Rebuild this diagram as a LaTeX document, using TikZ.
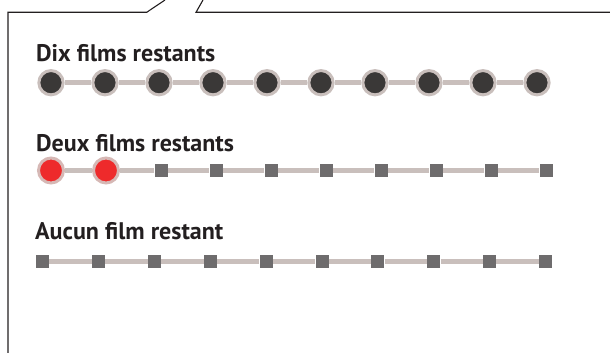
\documentclass[tikz,border=0pt]{standalone}
\usepackage{fontspec}
\setmainfont{PT Sans}
\usepackage{tikz}
\definecolor{ringgray}{HTML}{C9BFBC}
\definecolor{dotdark}{HTML}{3A3837}
\definecolor{dotred}{HTML}{EE2A2B}
\definecolor{ringred}{HTML}{D6B8B5}
\definecolor{sqgray}{HTML}{6E6C6D}
\definecolor{inkdark}{HTML}{231F20}

\begin{document}
\begin{tikzpicture}[
  x=1pt,y=-1pt,
  lbl/.style ={anchor=base west,inner sep=0pt,text=inkdark,
               font=\fontsize{24}{27}\selectfont\bfseries},
  full/.style={circle,draw=ringgray,fill=dotdark,line width=3pt,
               minimum size=24.3pt,inner sep=0pt},
  seen/.style={circle,draw=ringred,fill=dotred,line width=3pt,
               minimum size=25pt,inner sep=0pt},
  gone/.style={rectangle,fill=sqgray,minimum size=13pt,inner sep=0pt},
  bar/.style ={line width=4.5pt,color=ringgray},
  frm/.style ={line width=1.1pt,color=inkdark}
]
\useasboundingbox (0,0) rectangle (610,353);
% frame with its pointer
\draw[frm] (8,353) -- (8,12.3) -- (146.7,12.3) -- (165,0);
\draw[frm] (203,0) -- (196,12.3) -- (610,12.3);
% labels
\node[lbl] (t1) at (36,62)    {Dix films restants};
\node[lbl] (t2) at (36,151)   {Deux films restants};
\node[lbl] (t3) at (35,239.5) {Aucun film restant};
% markers
\foreach \i in {0,...,9}
  \node[full] (a\i) at ({51+54*\i},82.7) {};
\foreach \i in {0,1}
  \node[seen] (b\i) at ({51+55*\i},170.5) {};
\foreach \i in {2,...,9}
  \node[gone] (b\i) at ({51+55*\i},170.5) {};
\foreach \i in {0,...,9}
  \node[gone] (c\i) at ({42.5+55.9*\i},261.5) {};
% connectors
\foreach \r in {a,b,c}
  \foreach \i [remember=\i as \p (initially 0)] in {1,...,9}
    \draw[bar] (\r\p) -- (\r\i);
\end{tikzpicture}
\end{document}
